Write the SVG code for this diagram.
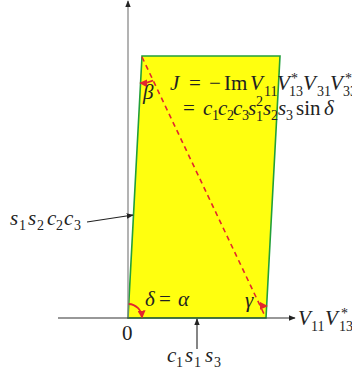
<svg xmlns="http://www.w3.org/2000/svg" width="352" height="375" viewBox="0 0 352 375">
<style>
.t{font-family:"Liberation Serif",serif;font-size:21px;fill:#222}
.i{font-style:italic}
.s{font-size:14px}
.red{fill:none;stroke:#e3262d;stroke-width:1.8}
</style>
<defs>
<marker id="ak" viewBox="0 0 10 10" refX="9" refY="5" markerWidth="7" markerHeight="7" markerUnits="userSpaceOnUse" orient="auto"><path d="M0,1 L10,5 L0,9 Z" fill="#222"/></marker>
<marker id="ar" viewBox="0 0 10 10" refX="8" refY="5" markerWidth="8" markerHeight="8" markerUnits="userSpaceOnUse" orient="auto"><path d="M0,0 L10,5 L0,10 Z" fill="#e3262d"/></marker>
</defs>
<g id="triangle">
<polygon points="128,318 266,318 280,56 142,56" fill="#ffff0f" stroke="#22a03a" stroke-width="1.6"/>
</g>
<g id="connectors">
<line x1="128" y1="318" x2="128" y2="1" stroke="#8a8a8a" stroke-width="1.3" marker-end="url(#ak)"/>
<line x1="58" y1="318" x2="295" y2="318" stroke="#333" stroke-width="1.2" marker-end="url(#ak)"/>
<line x1="142" y1="57" x2="265" y2="316" stroke="#e3262d" stroke-width="1.6" stroke-dasharray="5,4"/>
<path class="red" d="M128.7,304 A14,14 0 0 1 142,317" marker-end="url(#ar)"/>
<path class="red" d="M260.9,307.2 A12,12 0 0 1 266.3,306" marker-end="url(#ar)" stroke-width="2.4"/>
<path class="red" d="M153.1,80.5 A26,26 0 0 1 140.8,83" marker-end="url(#ar)"/>
<line x1="87" y1="222" x2="133" y2="215" stroke="#222" stroke-width="1.1" marker-end="url(#ak)"/>
<line x1="197" y1="349" x2="197" y2="319" stroke="#222" stroke-width="1.1" marker-end="url(#ak)"/>
</g>
<g id="labels" font-family="Liberation Serif, serif">
<text class="t" y="90"><tspan class="i" x="170">J</tspan><tspan x="189">=</tspan><tspan x="209">−</tspan><tspan x="224">Im</tspan><tspan class="i" x="250">V</tspan><tspan class="s" x="264" y="96">11</tspan><tspan class="i" x="277" y="90">V</tspan><tspan class="s" x="291" y="83">*</tspan><tspan class="s" x="289" y="96">13</tspan><tspan class="i" x="303" y="90">V</tspan><tspan class="s" x="317" y="96">31</tspan><tspan class="i" x="330" y="90">V</tspan><tspan class="s" x="345" y="83">*</tspan><tspan class="s" x="343" y="96">33</tspan></text>
<text class="t" y="115"><tspan x="183">=</tspan><tspan class="i" x="203">c</tspan><tspan class="s" x="212" y="120">1</tspan><tspan class="i" x="218" y="115">c</tspan><tspan class="s" x="227" y="120">2</tspan><tspan class="i" x="233" y="115">c</tspan><tspan class="s" x="242" y="120">3</tspan><tspan class="i" x="248" y="115">s</tspan><tspan class="s" x="256" y="106">2</tspan><tspan class="s" x="256" y="121">1</tspan><tspan class="i" x="263" y="115">s</tspan><tspan class="s" x="271" y="120">2</tspan><tspan class="i" x="278" y="115">s</tspan><tspan class="s" x="286" y="120">3</tspan><tspan x="296" y="115">sin</tspan><tspan class="i" x="324">δ</tspan></text>
<text class="t" y="225"><tspan class="i" x="10">s</tspan><tspan class="s" x="19" y="230">1</tspan><tspan class="i" x="28" y="225">s</tspan><tspan class="s" x="37" y="230">2</tspan><tspan class="i" x="47" y="225">c</tspan><tspan class="s" x="56" y="230">2</tspan><tspan class="i" x="64" y="225">c</tspan><tspan class="s" x="74" y="230">3</tspan></text>
<text class="t" x="122" y="340">0</text>
<text class="t" y="362"><tspan class="i" x="167">c</tspan><tspan class="s" x="176" y="367">1</tspan><tspan class="i" x="185" y="362">s</tspan><tspan class="s" x="194" y="367">1</tspan><tspan class="i" x="205" y="362">s</tspan><tspan class="s" x="214" y="367">3</tspan></text>
<text class="t" y="325"><tspan class="i" x="298">V</tspan><tspan class="s" x="311" y="331">11</tspan><tspan class="i" x="325" y="325">V</tspan><tspan class="s" x="341" y="318">*</tspan><tspan class="s" x="339" y="331">13</tspan></text>
<text class="t i" x="145" y="306">δ</text>
<text class="t" x="159" y="306">=</text>
<text class="t i" x="178" y="306">α</text>
<text class="t i" x="245" y="307">γ</text>
<text class="t i" x="143" y="99">β</text>
</g>
</svg>
